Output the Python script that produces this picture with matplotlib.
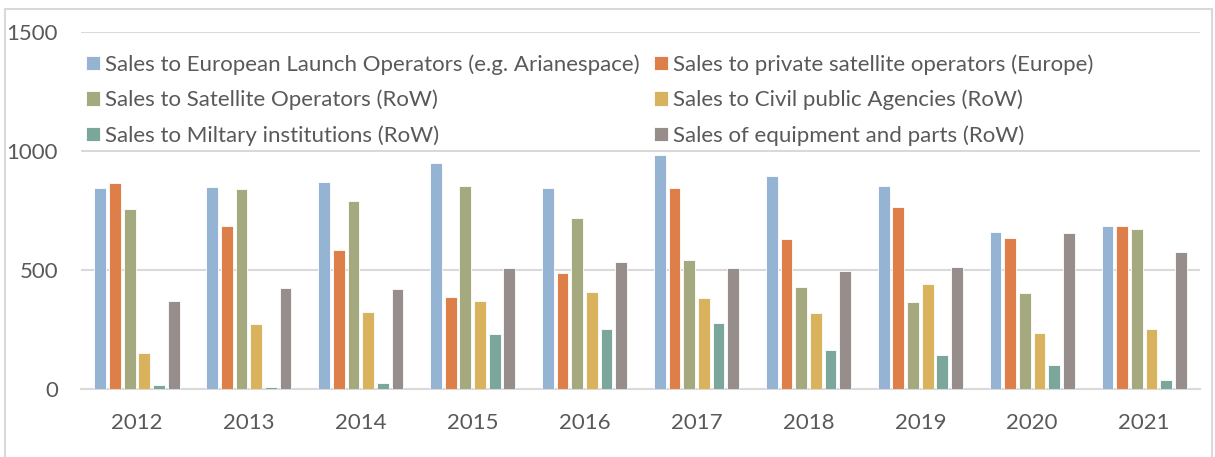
import numpy as np
import matplotlib.pyplot as plt
from matplotlib.lines import Line2D

plt.rcParams['font.family'] = ['Lato', 'DejaVu Sans']

years = ["2012", "2013", "2014", "2015", "2016", "2017", "2018", "2019", "2020", "2021"]

launch_eu = [844, 850, 872, 951, 847, 982, 895, 855, 661, 684]
private_eu = [867, 687, 586, 386, 487, 847, 632, 765, 636, 687]
sat_row = [757, 841, 791, 855, 718, 541, 428, 364, 403, 673]
civil_row = [153, 274, 322, 369, 406, 383, 319, 442, 237, 251]
military_row = [15, 7, 24, 232, 251, 279, 162, 142, 100, 38]
equipment_row = [372, 423, 420, 507, 532, 510, 496, 515, 656, 577]

labels = [
    "Sales to European Launch Operators (e.g. Arianespace)",
    "Sales to private satellite operators (Europe)",
    "Sales to Satellite Operators (RoW)",
    "Sales to Civil public Agencies (RoW)",
    "Sales to Miltary institutions (RoW)",
    "Sales of equipment and parts (RoW)",
]
colors = ["#95B4D4", "#DE7F49", "#A5AA7E", "#D9B25E", "#7BA79B", "#978D8B"]
series = [launch_eu, private_eu, sat_row, civil_row, military_row, equipment_row]

text_col = "#595959"
grid_col = "#D9D9D9"

fig = plt.figure(figsize=(12.15, 4.57), dpi=100)
ax = fig.add_axes([0.0667, 0.1488, 0.921, 0.7805])

x = np.arange(len(years))
pitch = 0.131
width = 0.105
for i, (vals, lab, col) in enumerate(zip(series, labels, colors)):
    off = (i - 2.5) * pitch
    ax.bar(x + off, vals, width=width, color=col, edgecolor="white", linewidth=0.6,
           label=lab, zorder=3)

ax.set_xlim(-0.5, len(years) - 0.5)
ax.set_ylim(0, 1500)
ax.set_yticks([0, 500, 1000, 1500])
ax.set_xticks(x)
ax.set_xticklabels(years)
ax.tick_params(axis="both", length=0, colors=text_col, labelsize=16)
ax.tick_params(axis="x", pad=17)
ax.tick_params(axis="y", pad=16.5)
ax.yaxis.grid(True, color=grid_col, linewidth=1.5, zorder=0)
for s in ["top", "right", "left"]:
    ax.spines[s].set_visible(False)
ax.spines["bottom"].set_color(grid_col)
ax.spines["bottom"].set_linewidth(1.5)

# reorder so the 2-column legend reads row by row
h, l = ax.get_legend_handles_labels()
order = [0, 2, 4, 1, 3, 5]
leg = ax.legend([h[k] for k in order], [l[k] for k in order], ncol=2,
                loc="upper left", bbox_to_anchor=(0.004, 0.939), frameon=False,
                fontsize=16, handlelength=0.63, handleheight=0.63,
                handletextpad=0.25, columnspacing=0.64, labelspacing=0.67,
                borderaxespad=0.0, borderpad=0.0)
for t in leg.get_texts():
    t.set_color(text_col)

# light chart-area border (open at the bottom, as cropped)
bx0, bx1 = 5 / 1215, 1212 / 1215
by1 = 1 - 9 / 457
for xs, ys in [([bx0, bx1], [by1, by1]), ([bx0, bx0], [0, by1]), ([bx1, bx1], [0, by1])]:
    fig.add_artist(Line2D(xs, ys, transform=fig.transFigure, color=grid_col, linewidth=1.5))

fig.savefig("out.png", dpi=100)
